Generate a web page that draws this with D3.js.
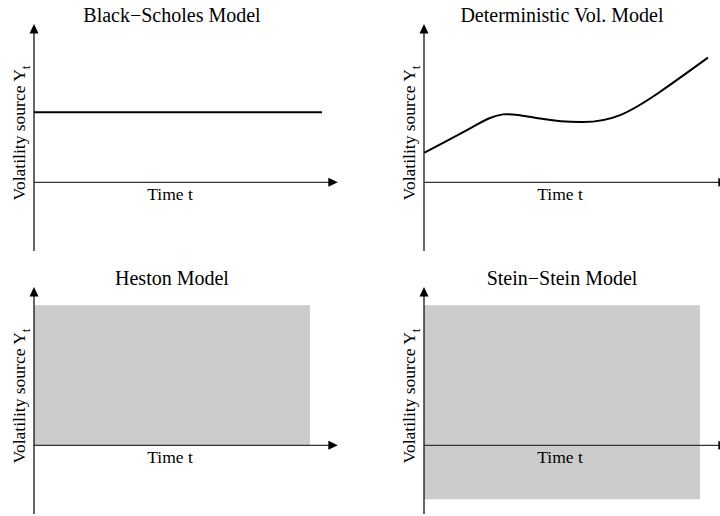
<!DOCTYPE html>
<html>
<head>
<meta charset="utf-8">
<script src="https://cdn.jsdelivr.net/npm/d3@7"></script>
<style>
    body { margin: 0; background: #fff; }
    text { font-family: "Liberation Serif", "DejaVu Serif", serif; fill: #000; }
</style>
</head>
<body>
<div id="chart"></div>
<script>
const panelTitles = ["Black\u2212Scholes Model", "Deterministic Vol. Model", "Heston Model", "Stein\u2212Stein Model"];
const xLabel = "Time t";
const yLabel = "Volatility source Y";

// Black-Scholes: constant volatility
const bsTime = [0, 10];
const bsVol = [1, 1];

// Deterministic volatility: key points
const dvTime = [0, 1.6, 2.74, 4.03, 5.52, 6.81, 8.19, 9.86];
const dvVol = [0.42, 0.77, 0.97, 0.91, 0.86, 0.96, 1.29, 1.78];

// stochastic models: range the volatility source may take
const bandEnd = [9.58, 9.58];
const bandLow = [0, -0.77];
const bandHigh = [2, 2];

const width = 720, height = 516;
const colOffset = [0, 390];
const rowOffset = [0, 263];

const svg = d3.select("#chart").append("svg")
    .attr("width", width).attr("height", height);

const x = d3.scaleLinear().domain([0, 10]).range([34, 322]);
const y = d3.scaleLinear().domain([-0.98, 2.26]).range([251, 24]);
const xAxisEnd = 10.55;

const line = d3.line()
    .x(d => x(d[0]))
    .y(d => y(d[1]))
    .curve(d3.curveNatural);

panelTitles.forEach((title, i) => {
    const g = svg.append("g")
        .attr("transform", `translate(${colOffset[i % 2]},${rowOffset[Math.floor(i / 2)]})`);

    // shaded range for the stochastic models
    if (i >= 2) {
        const k = i - 2;
        g.append("rect")
            .attr("x", x(0))
            .attr("y", y(bandHigh[k]))
            .attr("width", x(bandEnd[k]) - x(0))
            .attr("height", y(bandLow[k]) - y(bandHigh[k]))
            .attr("fill", "#cccccc");
    }

    // axes with arrow heads
    const x0 = x(0), y0 = y(0);
    const yTop = y(y.domain()[1]);
    g.append("line")
        .attr("x1", x0).attr("x2", x0)
        .attr("y1", y(y.domain()[0])).attr("y2", yTop + 8)
        .attr("stroke", "#000").attr("stroke-width", 1.2);
    g.append("path")
        .attr("d", `M${x0},${yTop} L${x0 - 4.5},${yTop + 9.5} L${x0 + 4.5},${yTop + 9.5} Z`)
        .attr("fill", "#000");

    g.append("line")
        .attr("x1", x0).attr("x2", x(xAxisEnd) - 8)
        .attr("y1", y0).attr("y2", y0)
        .attr("stroke", "#333").attr("stroke-width", 1.2);
    g.append("path")
        .attr("d", `M${x(xAxisEnd)},${y0} L${x(xAxisEnd) - 9.5},${y0 - 4.5} L${x(xAxisEnd) - 9.5},${y0 + 4.5} Z`)
        .attr("fill", "#000");

    if (i === 0) {
        g.append("path")
            .attr("d", line(bsTime.map((t, j) => [t, bsVol[j]])))
            .attr("fill", "none").attr("stroke", "#000").attr("stroke-width", 2);
    }
    if (i === 1) {
        g.append("path")
            .attr("d", line(dvTime.map((t, j) => [t, dvVol[j]])))
            .attr("fill", "none").attr("stroke", "#000").attr("stroke-width", 2);
    }

    // titles and labels
    g.append("text")
        .attr("x", 172).attr("y", 22)
        .attr("text-anchor", "middle")
        .style("font-size", "20px")
        .text(title);

    g.append("text")
        .attr("x", 170).attr("y", 200)
        .attr("text-anchor", "middle")
        .style("font-size", "17.5px")
        .text(xLabel);

    const yl = g.append("text")
        .attr("transform", "translate(25,133) rotate(-90)")
        .attr("text-anchor", "middle")
        .style("font-size", "17.5px");
    yl.append("tspan").text(yLabel);
    yl.append("tspan").attr("dy", 5).style("font-size", "13px").text("t");
});
</script>
</body>
</html>
